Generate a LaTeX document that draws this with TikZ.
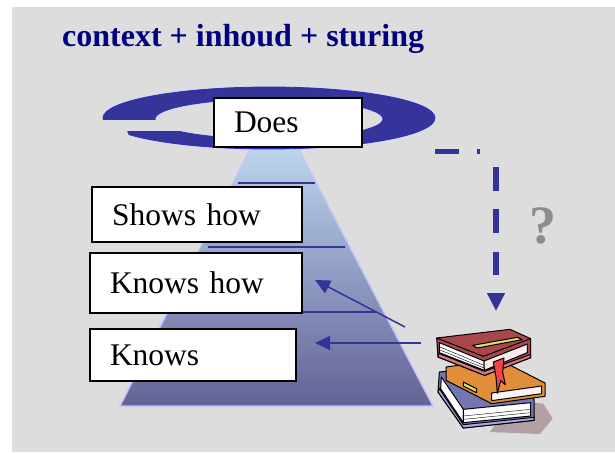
\documentclass[tikz,border=0pt]{standalone}
\usepackage{xcolor}
\usepackage{fontspec}
\setmainfont{Liberation Serif}
\usepackage{tikz}
\usetikzlibrary{arrows.meta}
\definecolor{navy}{RGB}{0,0,128}
\definecolor{panel}{RGB}{221,221,221}
\definecolor{ringblue}{RGB}{53,52,154}
\definecolor{ringedge}{RGB}{45,45,205}
\definecolor{lineblue}{RGB}{51,51,153}
\definecolor{pyrtop}{RGB}{202,234,253}
\definecolor{pyrbot}{RGB}{100,98,150}
\definecolor{pyredge}{RGB}{196,196,248}
\definecolor{qgrey}{RGB}{140,140,140}
\definecolor{bookred}{RGB}{168,72,76}
\definecolor{bookpink}{RGB}{214,120,130}
\definecolor{bookorange}{RGB}{224,142,58}
\definecolor{bookblue}{RGB}{116,118,178}
\definecolor{booklav}{RGB}{170,170,230}
\definecolor{bookyellow}{RGB}{222,222,110}
\definecolor{ribbon}{RGB}{240,70,70}
\definecolor{bookshadow}{RGB}{178,160,162}

\begin{document}
\begin{tikzpicture}[x=1pt,y=-1pt,>={Triangle[length=15pt,width=14pt]},
 level/.style={draw=black,line width=2pt,fill=white,anchor=north west,inner xsep=20pt,inner ysep=0pt,align=left,font=\fontsize{31.5}{36}\selectfont},
 rung/.style={lineblue,line width=1.5pt},
 book/.style={draw=black,line width=1pt,line join=round}]
\useasboundingbox (0,0) rectangle (615,452);
\fill[white] (0,0) rectangle (615,452);
\fill[panel] (12,7) rectangle (615,452);
\node[anchor=base west,inner sep=0pt,text=navy,font=\fontsize{32}{38}\selectfont\bfseries] (title) at (62,47) {context + inhoud + sturing};
% pyramid
\shade[top color=pyrtop,bottom color=pyrbot,draw=pyredge,line width=1.5pt] (120,406) -- (274,102) -- (433,406) -- cycle;
\draw[rung] (238,183) -- (315,183);
\draw[rung] (208,247) -- (345,247);
\draw[rung] (240,312) -- (377,312);
% ring round the top
\fill[ringblue,draw=ringedge,line width=0.8pt,even odd rule] (269,118) ellipse [x radius=166,y radius=31] (269,119) ellipse [x radius=114,y radius=20];
\fill[panel] (98,119.5) rectangle (200,131);
\fill[panel] (98,131) -- (127,131) -- (135.5,152) -- (98,152) -- cycle;
%\node[level] (does) at (213,97) {Does};
\node[level,text width=108pt,minimum height=49pt] (does) at (213,97) {Does};
\node[level,text width=170pt,minimum height=55pt] (shows) at (91,186) {Shows how};
\node[level,text width=172pt,minimum height=60pt] (knowshow) at (89,252) {Knows how};
\node[level,text width=166pt,minimum height=52pt] (knows) at (89,328) {Knows};
% arrows from the books
\coordinate (b1) at (405,327); \coordinate (t1) at (315,280);
\coordinate (b2) at (421,343); \coordinate (t2) at (315,343);
\draw[->,lineblue,line width=1.5pt] (b1) -- (t1);
\draw[->,lineblue,line width=1.5pt] (b2) -- (t2);
\coordinate (r) at (435,151.5); \coordinate (bend) at (496,151.5); \coordinate (pile) at (496,311);
\draw[lineblue,line width=5.5pt,dash pattern=on 24pt off 18pt on 3pt off 31.5pt on 24pt off 18pt on 24pt off 18.5pt on 23pt off 200pt,-{Triangle[length=18pt,width=17pt]}] (r) -- (bend) -- (pile);
\node[anchor=base west,inner sep=0pt,text=qgrey,font=\fontsize{54}{60}\selectfont\bfseries] (q) at (529,243) {?};
% books
\begin{scope}[shift={(430,322)},scale=1/3]
\fill[bookshadow] (250,235) -- (340,245) -- (368,290) -- (330,336) -- (180,330) -- cycle;
\filldraw[book,fill=bookblue] (28,150) -- (238,130) -- (312,232) -- (312,295) -- (100,318) -- (24,210) -- cycle;
\filldraw[book,fill=white] (34,165) -- (100,262) -- (100,302) -- (32,200) -- cycle;
\filldraw[book,fill=white] (100,262) -- (302,242) -- (302,282) -- (100,302) -- cycle;
\draw[black,line width=0.4pt] (100,282) -- (302,262) (100,292) -- (302,272);
\filldraw[book,fill=booklav] (24,210) -- (100,318) -- (312,295) -- (312,286) -- (100,308) -- (28,200) -- cycle;
\filldraw[book,fill=bookorange] (48,135) -- (208,113) -- (345,183) -- (345,223) -- (185,245) -- (48,175) -- cycle;
\filldraw[book,fill=white!90!bookpink] (185,213) -- (335,192) -- (335,215) -- (185,236) -- cycle;
\filldraw[book,fill=bookyellow] (100,180) -- (140,200) -- (140,212) -- (100,192) -- cycle;
\filldraw[book,fill=bookred] (20,48) -- (240,22) -- (302,50) -- (302,107) -- (164,160) -- (24,105) -- cycle;
\filldraw[book,fill=white] (28,62) -- (162,117) -- (163,145) -- (28,92) -- cycle;
\filldraw[book,fill=white!85!bookpink] (162,117) -- (292,66) -- (292,92) -- (163,145) -- cycle;
\filldraw[book,fill=bookpink] (24,105) -- (164,160) -- (302,107) -- (302,97) -- (163,148) -- (26,94) -- cycle;
\draw[book] (20,48) -- (160,103) -- (302,50);
\filldraw[book,fill=bookyellow] (128,70) -- (262,46) -- (276,53) -- (142,78) -- cycle;
\draw[black,line width=0.4pt] (30,75) -- (162,130) (30,84) -- (162,138);
\filldraw[book,fill=ribbon] (190,120) -- (222,108) -- (218,150) -- (226,188) -- (212,176) -- (202,214) -- (198,165) -- cycle;
\end{scope}
\end{tikzpicture}
\end{document}
